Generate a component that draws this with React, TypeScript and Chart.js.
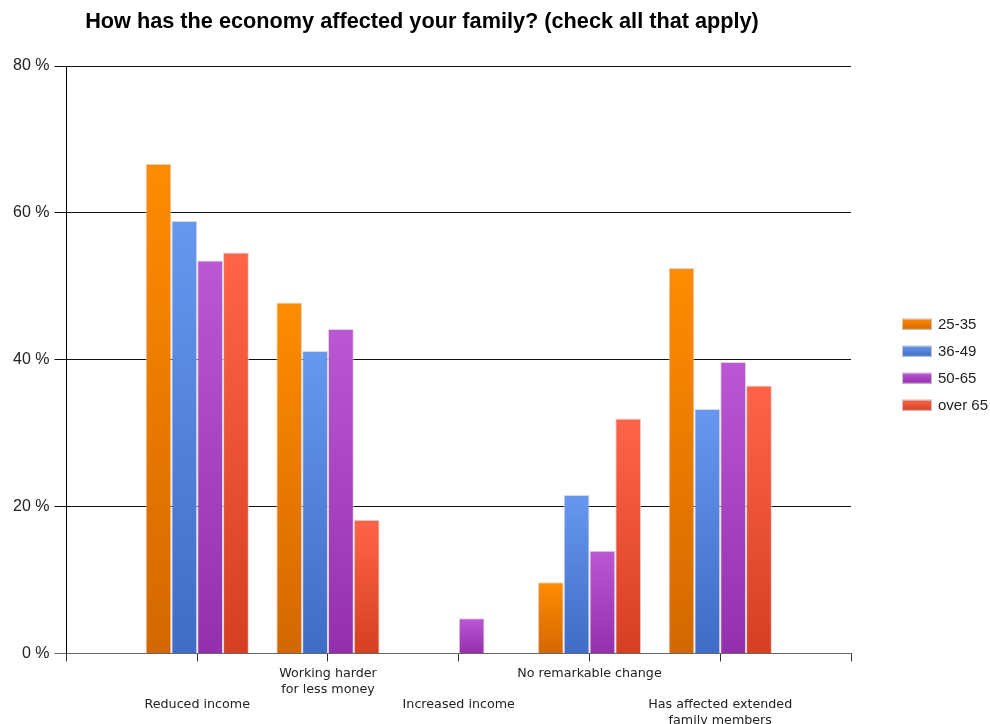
import React, { useEffect, useRef } from 'react';
import { Chart, registerables } from 'chart.js';

Chart.register(...registerables);

const titleText = 'How has the economy affected your family? (check all that apply)';

const categories = [
  'Reduced income',
  'Working harder\nfor less money',
  'Increased income',
  'No remarkable change',
  'Has affected extended\nfamily members',
];

const seriesNames = ['25-35', '36-49', '50-65', 'over 65'];

const values2535 = [66.7, 47.8, 0, 9.7, 52.5];
const values3649 = [58.9, 41.2, 0, 21.6, 33.3];
const values5065 = [53.5, 44.2, 4.8, 14.0, 39.7];
const valuesOver65 = [54.6, 18.2, 0, 32.0, 36.5];

const yTicks = [0, 20, 40, 60, 80];

const palette = [
  { top: '#FF8C00', bottom: '#D36800', flat: '#F08000' },
  { top: '#6797EE', bottom: '#3F6CC6', flat: '#5A86DE' },
  { top: '#BB56D4', bottom: '#9430AE', flat: '#A843C4' },
  { top: '#FF6448', bottom: '#D63F22', flat: '#EE5035' },
];

const FONT = '"Liberation Sans", Arial, sans-serif';

function pad(arr: number[]): (number | null)[] {
  return [null, ...arr, null];
}

function gradient(top: string, bottom: string, flat: string) {
  return (ctx: any) => {
    const chart = ctx.chart;
    const y = chart.scales && chart.scales.y;
    if (ctx.type !== 'data' || !y || ctx.raw == null || !chart.chartArea) return flat;
    const y0 = y.getPixelForValue(ctx.raw);
    const y1 = y.getPixelForValue(0);
    if (!isFinite(y0) || !isFinite(y1) || y1 - y0 < 1) return flat;
    const g = chart.ctx.createLinearGradient(0, y0, 0, y1);
    g.addColorStop(0, top);
    g.addColorStop(1, bottom);
    return g;
  };
}

const titlePlugin = {
  id: 'customTitle',
  afterDraw(chart: any) {
    const c = chart.ctx;
    c.save();
    c.font = `bold 21.7px ${FONT}`;
    c.fillStyle = '#000';
    c.textAlign = 'center';
    c.textBaseline = 'alphabetic';
    c.fillText(titleText, 422, 28);
    c.restore();
  },
};

const legendPlugin = {
  id: 'customLegend',
  afterDraw(chart: any) {
    const c = chart.ctx;
    const area = chart.chartArea;
    const x = area.right + 51;
    const mid = (area.top + area.bottom) / 2 + 5;
    const step = 27;
    const n = chart.data.datasets.length;
    c.save();
    c.font = `15px ${FONT}`;
    c.textBaseline = 'middle';
    c.textAlign = 'left';
    chart.data.datasets.forEach((ds: any, i: number) => {
      const cy = mid + (i - (n - 1) / 2) * step;
      const p = palette[i];
      const g = c.createLinearGradient(0, cy - 5.5, 0, cy + 5.5);
      g.addColorStop(0, p.top);
      g.addColorStop(1, p.bottom);
      c.fillStyle = g;
      c.fillRect(x, cy - 5.5, 30, 11);
      c.strokeStyle = 'rgba(205,205,205,0.9)';
      c.lineWidth = 1;
      c.strokeRect(x + 0.5, cy - 5, 29, 10);
      c.fillStyle = '#222';
      c.fillText(ds.label, x + 36, cy + 1);
    });
    c.restore();
  },
};

export default function App() {
  const ref = useRef<HTMLCanvasElement | null>(null);

  useEffect(() => {
    if (!ref.current) return;
    const allSeries = [values2535, values3649, values5065, valuesOver65];
    const labels = ['', ...categories, ''];
    const chart = new Chart(ref.current, {
      type: 'bar',
      data: {
        labels,
        datasets: allSeries.map((vals, i) => ({
          label: seriesNames[i],
          data: pad(vals),
          backgroundColor: gradient(palette[i].top, palette[i].bottom, palette[i].flat),
          borderColor: 'rgba(210,210,210,0.85)',
          borderWidth: (ctx: any) => (ctx.raw === 0 ? 0 : 1),
          borderSkipped: 'bottom',
          categoryPercentage: 0.79,
          barPercentage: 1,
        })),
      },
      options: {
        responsive: false,
        animation: false,
        layout: { padding: { top: 66, left: 8, right: 139, bottom: -8.5 } },
        plugins: {
          legend: { display: false },
          title: { display: false },
          tooltip: { enabled: false },
        },
        scales: {
          x: {
            type: 'category',
            offset: false,
            grid: {
              offset: false,
              drawOnChartArea: false,
              drawTicks: true,
              tickLength: 8,
              color: '#333',
            },
            border: { display: true, color: '#666', width: 1 },
            ticks: {
              autoSkip: false,
              maxRotation: 0,
              minRotation: 0,
              padding: 4.5,
              color: '#222',
              font: { family: '"DejaVu Sans", Verdana, sans-serif', size: 12.7, lineHeight: 15.5 / 12.7 },
              callback: (_v: any, index: number) => {
                const label = labels[index];
                if (!label) return '';
                const lines = label.split('\n');
                return index % 2 === 1 ? ['', '', ...lines] : lines;
              },
            },
          },
          y: {
            min: yTicks[0],
            max: yTicks[yTicks.length - 1],
            afterBuildTicks: (scale: any) => {
              scale.ticks = yTicks.map((v) => ({ value: v }));
            },
            grid: {
              color: (ctx: any) => (ctx.tick && ctx.tick.value === 0 ? '#666' : '#111'),
              lineWidth: 1,
              drawTicks: true,
              tickLength: 12,
            },
            border: { display: true, color: '#000', width: 1 },
            ticks: {
              padding: 5,
              color: '#222',
              font: { family: FONT, size: 16 },
              callback: (v: any) => `${v} %`,
            },
          },
        },
      },
      plugins: [titlePlugin, legendPlugin],
    } as any);
    return () => chart.destroy();
  }, []);

  return (
    <div style={{ position: 'absolute', left: 0, top: 0, width: 990, height: 724, background: '#fff' }}>
      <canvas ref={ref} width={990} height={724} style={{ display: 'block' }} />
    </div>
  );
}
